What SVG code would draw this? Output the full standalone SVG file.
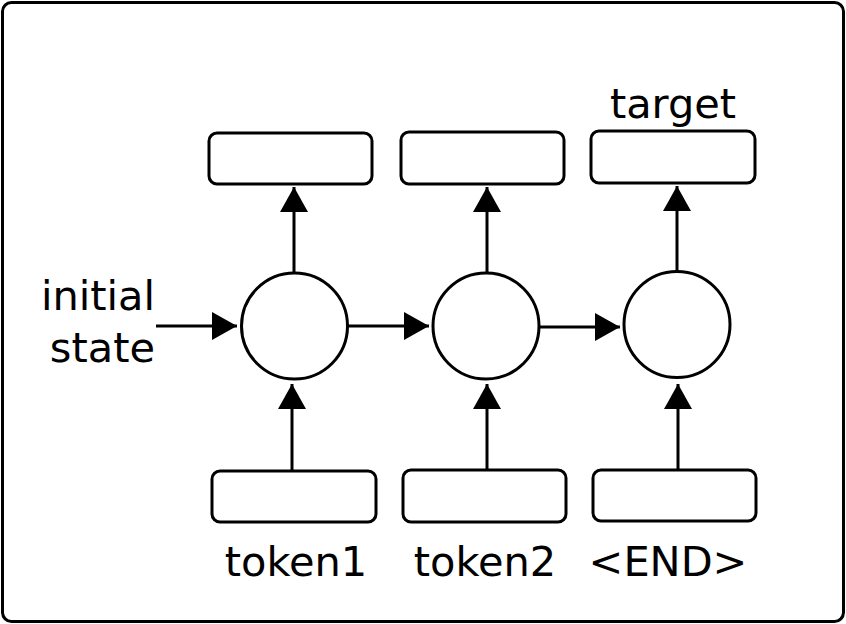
<svg xmlns="http://www.w3.org/2000/svg" width="846" height="624" viewBox="0 0 846 624">
<defs>
<style>
.frame{fill:#fff;stroke:#000;stroke-width:3}
.box{fill:#fff;stroke:#000;stroke-width:3}
.cell{fill:#fff;stroke:#000;stroke-width:3}
.edge{fill:none;stroke:#000;stroke-width:3}
.lbl{font-family:"DejaVu Sans",sans-serif;font-size:41.5px;fill:#000}
</style>
<marker id="arr" markerUnits="userSpaceOnUse" viewBox="0 0 25 28" refX="25" refY="14" markerWidth="25" markerHeight="28" orient="auto">
<path d="M0,0 L25,14 L0,28 Z" fill="#000"/>
</marker>
</defs>
<rect class="frame" x="2.5" y="2.5" width="841" height="619" rx="9"/>
<g id="out1"><rect class="box" x="209" y="133" width="163" height="51" rx="8"/></g>
<g id="out2"><rect class="box" x="401" y="132" width="163" height="52" rx="8"/></g>
<g id="out3"><rect class="box" x="591" y="131" width="164" height="52" rx="8"/><text class="lbl" x="673" y="118" text-anchor="middle">target</text></g>
<g id="cell1"><circle class="cell" cx="294.5" cy="326" r="53"/></g>
<g id="cell2"><circle class="cell" cx="486" cy="326" r="53"/></g>
<g id="cell3"><circle class="cell" cx="677" cy="324.5" r="53"/></g>
<g id="in1"><rect class="box" x="212" y="471" width="164" height="51" rx="8"/><text class="lbl" x="296" y="576" text-anchor="middle">token1</text></g>
<g id="in2"><rect class="box" x="403" y="470" width="163" height="52" rx="8"/><text class="lbl" x="485" y="576" text-anchor="middle">token2</text></g>
<g id="in3"><rect class="box" x="593" y="470" width="163" height="51" rx="8"/><text class="lbl" x="668" y="576" text-anchor="middle">&lt;END&gt;</text></g>
<g id="init"><text class="lbl" x="155" y="310" text-anchor="end">initial</text><text class="lbl" x="155" y="362" text-anchor="end">state</text></g>
<g id="connectors">
<line class="edge" x1="156" y1="326" x2="237" y2="326" marker-end="url(#arr)"/>
<line class="edge" x1="347.5" y1="326" x2="429" y2="326" marker-end="url(#arr)"/>
<line class="edge" x1="539" y1="327" x2="620" y2="327" marker-end="url(#arr)"/>
<line class="edge" x1="294" y1="273" x2="294" y2="187" marker-end="url(#arr)"/>
<line class="edge" x1="487" y1="273" x2="487" y2="187" marker-end="url(#arr)"/>
<line class="edge" x1="677" y1="271.5" x2="677" y2="186" marker-end="url(#arr)"/>
<line class="edge" x1="292" y1="471" x2="292" y2="384" marker-end="url(#arr)"/>
<line class="edge" x1="487" y1="470" x2="487" y2="384" marker-end="url(#arr)"/>
<line class="edge" x1="678" y1="470" x2="678" y2="384" marker-end="url(#arr)"/>
</g>
</svg>
